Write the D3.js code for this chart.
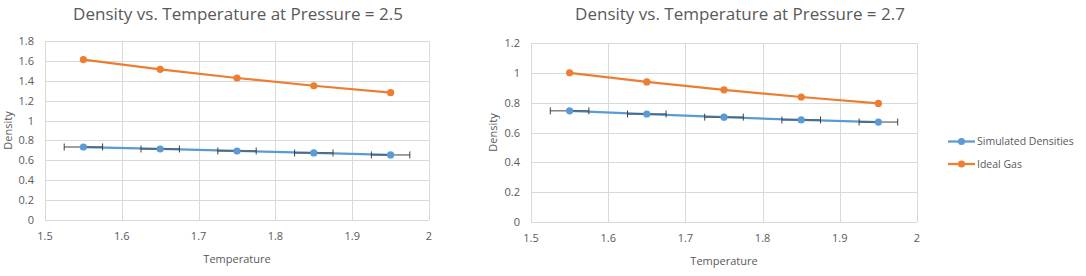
<!DOCTYPE html>
<html>
<head>
<meta charset="utf-8">
<script src="https://cdn.jsdelivr.net/npm/d3@7"></script>
<style>
  body { margin: 0; background: #fff; }
  text { font-family: "Open Sans", "Liberation Sans", sans-serif; fill: #595959; }
</style>
</head>
<body>
<svg id="chart" width="1086" height="276"></svg>
<script>
// data
const temps = [1.55, 1.65, 1.75, 1.85, 1.95];
const tempErr = 0.025;

const simulated25 = [0.734, 0.714, 0.694, 0.674, 0.654];
const ideal25 = [1.613, 1.515, 1.428, 1.350, 1.280];

const simulated27 = [0.745, 0.724, 0.703, 0.684, 0.670];
const ideal27 = [1.0, 0.939, 0.886, 0.838, 0.795];

const xTicks = [1.5, 1.6, 1.7, 1.8, 1.9, 2];
const yTicks25 = [0, 0.2, 0.4, 0.6, 0.8, 1, 1.2, 1.4, 1.6, 1.8];
const yTicks27 = [0, 0.2, 0.4, 0.6, 0.8, 1, 1.2];

const seriesNames = ["Simulated Densities", "Ideal Gas"];
const colors = ["#5B9BD5", "#ED7D31"];

const svg = d3.select("#chart");

const charts = [
  { title: "Density vs. Temperature at Pressure = 2.5", sim: simulated25, ideal: ideal25,
    yTicks: yTicks25, left: 45, right: 429, top: 41, bottom: 220, titleX: 238, yTitleX: 12 },
  { title: "Density vs. Temperature at Pressure = 2.7", sim: simulated27, ideal: ideal27,
    yTicks: yTicks27, left: 531, right: 917, top: 43, bottom: 222, titleX: 740, yTitleX: 497 }
];

charts.forEach(c => {
  const x = d3.scaleLinear().domain([1.5, 2]).range([c.left, c.right]);
  const y = d3.scaleLinear().domain([0, d3.max(c.yTicks)]).range([c.bottom, c.top]);
  const g = svg.append("g");

  // gridlines
  g.selectAll(".hg").data(c.yTicks).enter().append("line")
    .attr("x1", c.left).attr("x2", c.right)
    .attr("y1", d => Math.round(y(d)) + 0.5).attr("y2", d => Math.round(y(d)) + 0.5)
    .attr("stroke", "#D9D9D9").attr("stroke-width", 1);
  g.selectAll(".vg").data(xTicks).enter().append("line")
    .attr("y1", c.top).attr("y2", c.bottom)
    .attr("x1", d => Math.round(x(d)) + 0.5).attr("x2", d => Math.round(x(d)) + 0.5)
    .attr("stroke", "#D9D9D9").attr("stroke-width", 1);

  // tick labels
  g.selectAll(".yl").data(c.yTicks).enter().append("text")
    .attr("x", c.left - 11).attr("y", d => y(d) + 4)
    .attr("text-anchor", "end").attr("font-size", 11)
    .text(d => d);
  g.selectAll(".xl").data(xTicks).enter().append("text")
    .attr("x", d => x(d)).attr("y", c.bottom + 20)
    .attr("text-anchor", "middle").attr("font-size", 11)
    .text(d => d);

  // title and axis titles
  g.append("text").attr("x", c.titleX).attr("y", 20)
    .attr("text-anchor", "middle").attr("font-size", 17).text(c.title);
  g.append("text").attr("x", (c.left + c.right) / 2).attr("y", c.bottom + 43)
    .attr("text-anchor", "middle").attr("font-size", 11).text("Temperature");
  g.append("text")
    .attr("transform", `translate(${c.yTitleX},${(c.top + c.bottom) / 2}) rotate(-90)`)
    .attr("text-anchor", "middle").attr("font-size", 11).text("Density");

  const line = d3.line().x((d, i) => x(temps[i])).y(d => y(d));

  [c.sim, c.ideal].forEach((vals, si) => {
    g.append("path").datum(vals).attr("d", line)
      .attr("fill", "none").attr("stroke", colors[si]).attr("stroke-width", 2.25)
      .attr("stroke-linecap", "round");
  });

  // horizontal error bars on simulated series
  const eb = g.selectAll(".eb").data(c.sim).enter().append("g");
  eb.append("line")
    .attr("x1", (d, i) => x(temps[i] - tempErr)).attr("x2", (d, i) => x(temps[i] + tempErr))
    .attr("y1", d => y(d)).attr("y2", d => y(d))
    .attr("stroke", "#404040").attr("stroke-width", 1);
  [-1, 1].forEach(s => {
    eb.append("line")
      .attr("x1", (d, i) => x(temps[i] + s * tempErr)).attr("x2", (d, i) => x(temps[i] + s * tempErr))
      .attr("y1", d => y(d) - 3.5).attr("y2", d => y(d) + 3.5)
      .attr("stroke", "#404040").attr("stroke-width", 1);
  });

  [c.sim, c.ideal].forEach((vals, si) => {
    g.selectAll(null).data(vals).enter().append("circle")
      .attr("cx", (d, i) => x(temps[i])).attr("cy", d => y(d)).attr("r", 3.6)
      .attr("fill", colors[si]);
  });
});

// legend
const legend = svg.append("g");
seriesNames.forEach((name, i) => {
  const ly = 141.5 + i * 22.5;
  legend.append("line").attr("x1", 948).attr("x2", 975).attr("y1", ly).attr("y2", ly)
    .attr("stroke", colors[i]).attr("stroke-width", 2.25);
  legend.append("circle").attr("cx", 961.5).attr("cy", ly).attr("r", 3.6).attr("fill", colors[i]);
  legend.append("text").attr("x", 977).attr("y", ly + 3.5).attr("font-size", 10.5).text(name);
});
</script>
</body>
</html>
